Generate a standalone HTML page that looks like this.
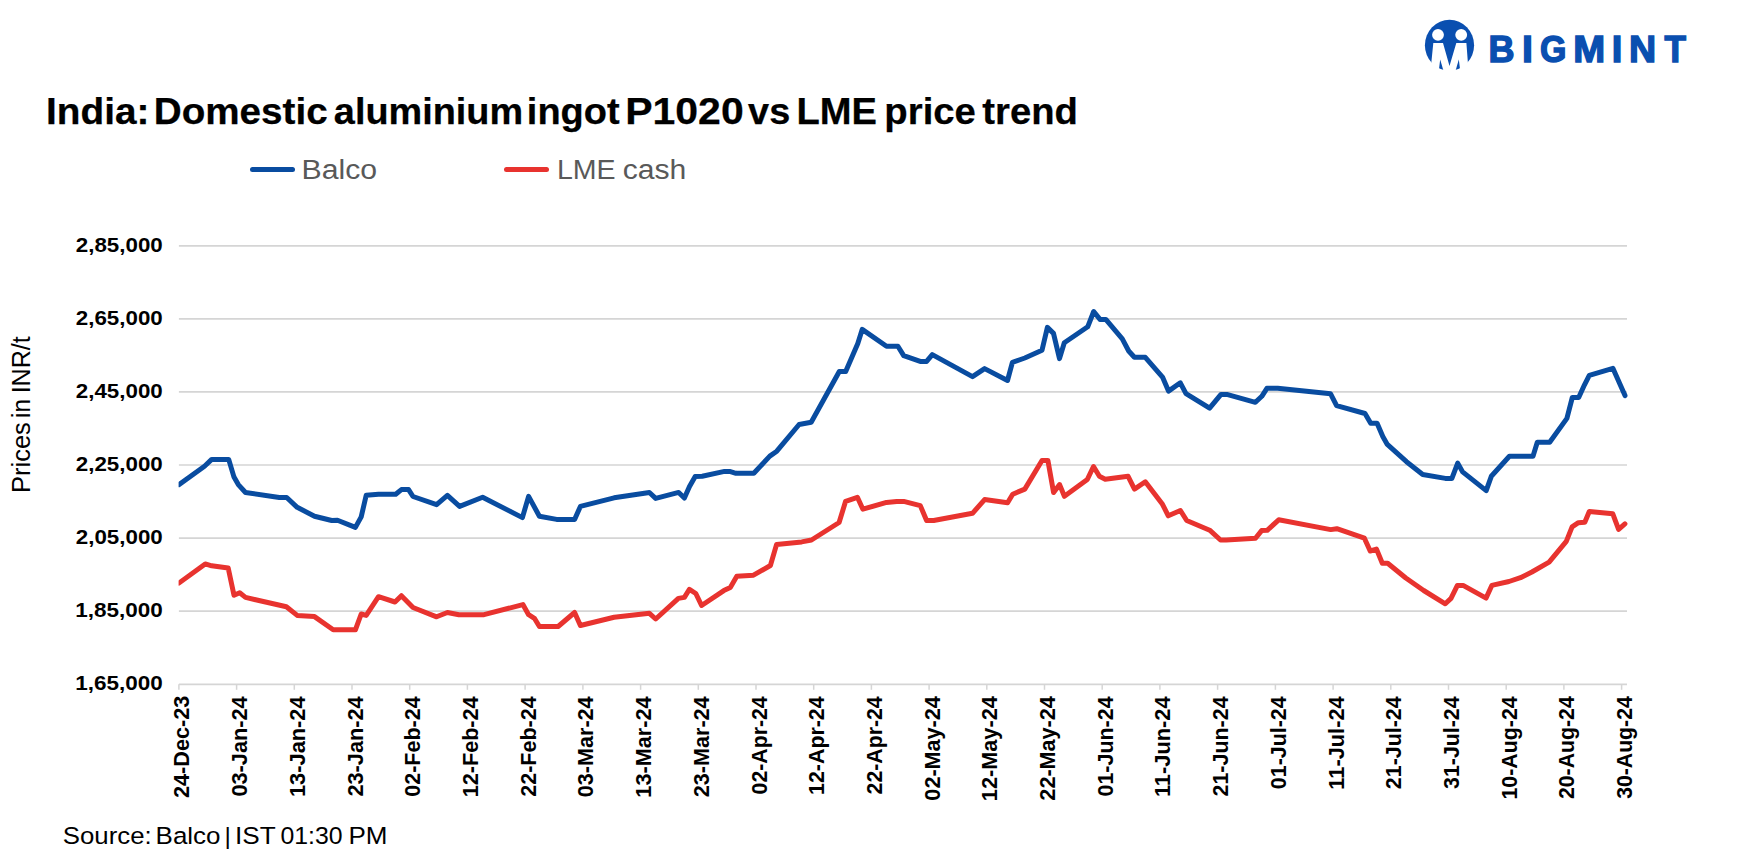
<!DOCTYPE html>
<html lang="en"><head><meta charset="utf-8"><title>India: Domestic aluminium ingot P1020 vs LME price trend</title>
<style>
html,body{margin:0;padding:0;background:#fff;}
body{width:1739px;height:863px;overflow:hidden;font-family:"Liberation Sans",sans-serif;}
svg{display:block;}
text{font-family:"Liberation Sans",sans-serif;}
</style></head><body>
<svg width="1739" height="863" viewBox="0 0 1739 863">
<rect width="1739" height="863" fill="#fff"/>
<g id="logo">
<defs><clipPath id="lc"><ellipse cx="1449.5" cy="45.3" rx="24.6" ry="25.5"/></clipPath></defs>
<ellipse cx="1449.5" cy="45.3" rx="24.6" ry="25.5" fill="#0a4fb0"/>
<circle cx="1438" cy="34.8" r="5.9" fill="#fff"/>
<circle cx="1461.2" cy="34.8" r="5.9" fill="#fff"/>
<path d="M1433.3 42.9 L1443 42.9 L1449.5 66 L1456.3 42.9 L1466.4 42.9 L1468.6 72 L1430.4 72 Z" fill="#fff"/>
<g clip-path="url(#lc)"><path d="M1440.2 59.5 L1443.8 72 L1438.6 72 Z" fill="#0a4fb0"/>
<path d="M1458.8 59.5 L1460.4 72 L1455.2 72 Z" fill="#0a4fb0"/></g>
<text y="62.4" font-size="36.3" font-weight="700" fill="#0a4fb0" stroke="#0a4fb0" stroke-width="1.4" stroke-linejoin="miter"><tspan x="1488.39" textLength="26.05" lengthAdjust="spacingAndGlyphs">B</tspan><tspan x="1521.95" textLength="10.99" lengthAdjust="spacingAndGlyphs">I</tspan><tspan x="1540.01" textLength="26.40" lengthAdjust="spacingAndGlyphs">G</tspan><tspan x="1573.24" textLength="31.93" lengthAdjust="spacingAndGlyphs">M</tspan><tspan x="1611.65" textLength="10.61" lengthAdjust="spacingAndGlyphs">I</tspan><tspan x="1628.99" textLength="27.15" lengthAdjust="spacingAndGlyphs">N</tspan><tspan x="1664.41" textLength="21.47" lengthAdjust="spacingAndGlyphs">T</tspan></text>
</g>
<text y="124.3" font-size="36.4" font-weight="700" fill="#000" stroke="#000" stroke-width="0.25"><tspan x="46.04" textLength="103.34" lengthAdjust="spacingAndGlyphs">India:</tspan> <tspan x="153.75" textLength="173.88" lengthAdjust="spacingAndGlyphs">Domestic</tspan> <tspan x="333.86" textLength="189.26" lengthAdjust="spacingAndGlyphs">aluminium</tspan> <tspan x="526.89" textLength="92.75" lengthAdjust="spacingAndGlyphs">ingot</tspan> <tspan x="625.19" textLength="118.49" lengthAdjust="spacingAndGlyphs">P1020</tspan> <tspan x="748.14" textLength="42.10" lengthAdjust="spacingAndGlyphs">vs</tspan> <tspan x="796.48" textLength="80.51" lengthAdjust="spacingAndGlyphs">LME</tspan> <tspan x="884.37" textLength="91.53" lengthAdjust="spacingAndGlyphs">price</tspan> <tspan x="982.27" textLength="95.64" lengthAdjust="spacingAndGlyphs">trend</tspan></text>
<line x1="252.5" y1="169.6" x2="292.5" y2="169.6" stroke="#094ca0" stroke-width="5" stroke-linecap="round"/>
<text y="178.8" font-size="27" fill="#595959"><tspan x="301.48" textLength="75.67" lengthAdjust="spacingAndGlyphs">Balco</tspan></text>
<line x1="506.5" y1="169.6" x2="546.5" y2="169.6" stroke="#e8332f" stroke-width="5" stroke-linecap="round"/>
<text y="178.8" font-size="27" fill="#595959"><tspan x="556.92" textLength="58.73" lengthAdjust="spacingAndGlyphs">LME</tspan> <tspan x="622.70" textLength="63.70" lengthAdjust="spacingAndGlyphs">cash</tspan></text>
<line x1="178.9" y1="245.9" x2="1627" y2="245.9" stroke="#d5d5d5" stroke-width="1.7"/>
<line x1="178.9" y1="318.9" x2="1627" y2="318.9" stroke="#d5d5d5" stroke-width="1.7"/>
<line x1="178.9" y1="391.9" x2="1627" y2="391.9" stroke="#d5d5d5" stroke-width="1.7"/>
<line x1="178.9" y1="465.0" x2="1627" y2="465.0" stroke="#d5d5d5" stroke-width="1.7"/>
<line x1="178.9" y1="538.1" x2="1627" y2="538.1" stroke="#d5d5d5" stroke-width="1.7"/>
<line x1="178.9" y1="611.1" x2="1627" y2="611.1" stroke="#d5d5d5" stroke-width="1.7"/>
<line x1="178.9" y1="684.3" x2="1627" y2="684.3" stroke="#d5d5d5" stroke-width="1.7"/>
<line x1="178.9" y1="684.3" x2="178.9" y2="689.8" stroke="#d5d5d5" stroke-width="1.5"/>
<line x1="236.6" y1="684.3" x2="236.6" y2="689.8" stroke="#d5d5d5" stroke-width="1.5"/>
<line x1="294.3" y1="684.3" x2="294.3" y2="689.8" stroke="#d5d5d5" stroke-width="1.5"/>
<line x1="352.0" y1="684.3" x2="352.0" y2="689.8" stroke="#d5d5d5" stroke-width="1.5"/>
<line x1="409.7" y1="684.3" x2="409.7" y2="689.8" stroke="#d5d5d5" stroke-width="1.5"/>
<line x1="467.4" y1="684.3" x2="467.4" y2="689.8" stroke="#d5d5d5" stroke-width="1.5"/>
<line x1="525.1" y1="684.3" x2="525.1" y2="689.8" stroke="#d5d5d5" stroke-width="1.5"/>
<line x1="582.9" y1="684.3" x2="582.9" y2="689.8" stroke="#d5d5d5" stroke-width="1.5"/>
<line x1="640.6" y1="684.3" x2="640.6" y2="689.8" stroke="#d5d5d5" stroke-width="1.5"/>
<line x1="698.3" y1="684.3" x2="698.3" y2="689.8" stroke="#d5d5d5" stroke-width="1.5"/>
<line x1="756.0" y1="684.3" x2="756.0" y2="689.8" stroke="#d5d5d5" stroke-width="1.5"/>
<line x1="813.7" y1="684.3" x2="813.7" y2="689.8" stroke="#d5d5d5" stroke-width="1.5"/>
<line x1="871.4" y1="684.3" x2="871.4" y2="689.8" stroke="#d5d5d5" stroke-width="1.5"/>
<line x1="929.1" y1="684.3" x2="929.1" y2="689.8" stroke="#d5d5d5" stroke-width="1.5"/>
<line x1="986.8" y1="684.3" x2="986.8" y2="689.8" stroke="#d5d5d5" stroke-width="1.5"/>
<line x1="1044.5" y1="684.3" x2="1044.5" y2="689.8" stroke="#d5d5d5" stroke-width="1.5"/>
<line x1="1102.2" y1="684.3" x2="1102.2" y2="689.8" stroke="#d5d5d5" stroke-width="1.5"/>
<line x1="1159.9" y1="684.3" x2="1159.9" y2="689.8" stroke="#d5d5d5" stroke-width="1.5"/>
<line x1="1217.6" y1="684.3" x2="1217.6" y2="689.8" stroke="#d5d5d5" stroke-width="1.5"/>
<line x1="1275.4" y1="684.3" x2="1275.4" y2="689.8" stroke="#d5d5d5" stroke-width="1.5"/>
<line x1="1333.1" y1="684.3" x2="1333.1" y2="689.8" stroke="#d5d5d5" stroke-width="1.5"/>
<line x1="1390.8" y1="684.3" x2="1390.8" y2="689.8" stroke="#d5d5d5" stroke-width="1.5"/>
<line x1="1448.5" y1="684.3" x2="1448.5" y2="689.8" stroke="#d5d5d5" stroke-width="1.5"/>
<line x1="1506.2" y1="684.3" x2="1506.2" y2="689.8" stroke="#d5d5d5" stroke-width="1.5"/>
<line x1="1563.9" y1="684.3" x2="1563.9" y2="689.8" stroke="#d5d5d5" stroke-width="1.5"/>
<line x1="1621.6" y1="684.3" x2="1621.6" y2="689.8" stroke="#d5d5d5" stroke-width="1.5"/>
<text y="251.5" font-size="20" font-weight="700" fill="#000"><tspan x="75.76" textLength="87.00" lengthAdjust="spacingAndGlyphs">2,85,000</tspan></text>
<text y="324.5" font-size="20" font-weight="700" fill="#000"><tspan x="75.76" textLength="87.00" lengthAdjust="spacingAndGlyphs">2,65,000</tspan></text>
<text y="397.5" font-size="20" font-weight="700" fill="#000"><tspan x="75.76" textLength="87.00" lengthAdjust="spacingAndGlyphs">2,45,000</tspan></text>
<text y="470.6" font-size="20" font-weight="700" fill="#000"><tspan x="75.76" textLength="87.00" lengthAdjust="spacingAndGlyphs">2,25,000</tspan></text>
<text y="543.7" font-size="20" font-weight="700" fill="#000"><tspan x="75.76" textLength="87.00" lengthAdjust="spacingAndGlyphs">2,05,000</tspan></text>
<text y="616.7" font-size="20" font-weight="700" fill="#000"><tspan x="75.19" textLength="87.57" lengthAdjust="spacingAndGlyphs">1,85,000</tspan></text>
<text y="689.9" font-size="20" font-weight="700" fill="#000"><tspan x="75.19" textLength="87.57" lengthAdjust="spacingAndGlyphs">1,65,000</tspan></text>
<text transform="translate(30.1,500) rotate(-90)" font-size="25.3" fill="#000"><tspan x="6.98" textLength="70.87" lengthAdjust="spacingAndGlyphs">Prices</tspan> <tspan x="82.02" textLength="18.92" lengthAdjust="spacingAndGlyphs">in</tspan> <tspan x="106.67" textLength="57.05" lengthAdjust="spacingAndGlyphs">INR/t</tspan></text>
<text transform="translate(189.4,800) rotate(-90)" x="2.06" textLength="102.29" lengthAdjust="spacingAndGlyphs" font-size="21.8" font-weight="700" fill="#000">24-Dec-23</text>
<text transform="translate(247.1,800) rotate(-90)" x="3.45" textLength="100.23" lengthAdjust="spacingAndGlyphs" font-size="21.8" font-weight="700" fill="#000">03-Jan-24</text>
<text transform="translate(304.8,800) rotate(-90)" x="2.95" textLength="100.73" lengthAdjust="spacingAndGlyphs" font-size="21.8" font-weight="700" fill="#000">13-Jan-24</text>
<text transform="translate(362.5,800) rotate(-90)" x="3.45" textLength="100.23" lengthAdjust="spacingAndGlyphs" font-size="21.8" font-weight="700" fill="#000">23-Jan-24</text>
<text transform="translate(420.2,800) rotate(-90)" x="3.26" textLength="100.36" lengthAdjust="spacingAndGlyphs" font-size="21.8" font-weight="700" fill="#000">02-Feb-24</text>
<text transform="translate(477.9,800) rotate(-90)" x="2.76" textLength="100.85" lengthAdjust="spacingAndGlyphs" font-size="21.8" font-weight="700" fill="#000">12-Feb-24</text>
<text transform="translate(535.6,800) rotate(-90)" x="3.26" textLength="100.36" lengthAdjust="spacingAndGlyphs" font-size="21.8" font-weight="700" fill="#000">22-Feb-24</text>
<text transform="translate(593.4,800) rotate(-90)" x="2.86" textLength="100.77" lengthAdjust="spacingAndGlyphs" font-size="21.8" font-weight="700" fill="#000">03-Mar-24</text>
<text transform="translate(651.1,800) rotate(-90)" x="2.36" textLength="101.27" lengthAdjust="spacingAndGlyphs" font-size="21.8" font-weight="700" fill="#000">13-Mar-24</text>
<text transform="translate(708.8,800) rotate(-90)" x="2.86" textLength="100.77" lengthAdjust="spacingAndGlyphs" font-size="21.8" font-weight="700" fill="#000">23-Mar-24</text>
<text transform="translate(766.5,800) rotate(-90)" x="5.57" textLength="98.08" lengthAdjust="spacingAndGlyphs" font-size="21.8" font-weight="700" fill="#000">02-Apr-24</text>
<text transform="translate(824.2,800) rotate(-90)" x="5.07" textLength="98.57" lengthAdjust="spacingAndGlyphs" font-size="21.8" font-weight="700" fill="#000">12-Apr-24</text>
<text transform="translate(881.9,800) rotate(-90)" x="5.57" textLength="98.08" lengthAdjust="spacingAndGlyphs" font-size="21.8" font-weight="700" fill="#000">22-Apr-24</text>
<text transform="translate(939.6,800) rotate(-90)" x="-0.64" textLength="104.41" lengthAdjust="spacingAndGlyphs" font-size="21.8" font-weight="700" fill="#000">02-May-24</text>
<text transform="translate(997.3,800) rotate(-90)" x="-1.14" textLength="104.92" lengthAdjust="spacingAndGlyphs" font-size="21.8" font-weight="700" fill="#000">12-May-24</text>
<text transform="translate(1055.0,800) rotate(-90)" x="-0.64" textLength="104.41" lengthAdjust="spacingAndGlyphs" font-size="21.8" font-weight="700" fill="#000">22-May-24</text>
<text transform="translate(1112.7,800) rotate(-90)" x="3.46" textLength="100.15" lengthAdjust="spacingAndGlyphs" font-size="21.8" font-weight="700" fill="#000">01-Jun-24</text>
<text transform="translate(1170.4,800) rotate(-90)" x="2.95" textLength="100.71" lengthAdjust="spacingAndGlyphs" font-size="21.8" font-weight="700" fill="#000">11-Jun-24</text>
<text transform="translate(1228.1,800) rotate(-90)" x="3.46" textLength="100.15" lengthAdjust="spacingAndGlyphs" font-size="21.8" font-weight="700" fill="#000">21-Jun-24</text>
<text transform="translate(1285.9,800) rotate(-90)" x="10.86" textLength="92.74" lengthAdjust="spacingAndGlyphs" font-size="21.8" font-weight="700" fill="#000">01-Jul-24</text>
<text transform="translate(1343.6,800) rotate(-90)" x="10.35" textLength="93.30" lengthAdjust="spacingAndGlyphs" font-size="21.8" font-weight="700" fill="#000">11-Jul-24</text>
<text transform="translate(1401.3,800) rotate(-90)" x="10.86" textLength="92.74" lengthAdjust="spacingAndGlyphs" font-size="21.8" font-weight="700" fill="#000">21-Jul-24</text>
<text transform="translate(1459.0,800) rotate(-90)" x="11.11" textLength="92.49" lengthAdjust="spacingAndGlyphs" font-size="21.8" font-weight="700" fill="#000">31-Jul-24</text>
<text transform="translate(1516.7,800) rotate(-90)" x="0.48" textLength="103.26" lengthAdjust="spacingAndGlyphs" font-size="21.8" font-weight="700" fill="#000">10-Aug-24</text>
<text transform="translate(1574.4,800) rotate(-90)" x="0.97" textLength="102.77" lengthAdjust="spacingAndGlyphs" font-size="21.8" font-weight="700" fill="#000">20-Aug-24</text>
<text transform="translate(1632.1,800) rotate(-90)" x="1.21" textLength="102.52" lengthAdjust="spacingAndGlyphs" font-size="21.8" font-weight="700" fill="#000">30-Aug-24</text>
<defs><clipPath id="pc"><rect x="178.6" y="200" width="1500" height="500"/></clipPath></defs>
<g clip-path="url(#pc)">
<polyline points="178.9,583.1 205.2,563.9 211.7,565.8 228.2,568.0 234.0,595.3 239.7,592.8 245.5,597.4 286.4,606.8 297.2,615.4 314.5,616.6 333.2,629.8 355.4,629.8 361.2,614.0 366.2,615.4 378.5,596.7 395.0,602.0 401.4,595.7 413.0,607.5 436.6,616.8 447.4,612.5 458.9,614.7 484.0,614.7 522.9,604.6 528.6,614.7 534.4,618.3 539.4,626.5 558.1,626.5 574.6,612.5 580.4,625.5 614.1,617.3 649.4,613.3 655.7,619.0 678.4,598.4 684.4,597.4 689.4,589.3 695.8,593.5 701.6,605.5 723.8,590.6 730.3,587.4 736.8,576.3 753.5,575.2 770.4,565.5 776.6,544.4 801.7,541.9 811.5,540.0 839.1,522.5 845.6,501.3 857.4,497.3 862.9,509.2 886.5,502.4 896.7,501.4 903.7,501.4 920.3,505.6 926.6,520.5 933.7,520.5 972.5,513.3 984.6,499.6 1007.6,502.7 1012.7,494.2 1024.8,489.1 1042.0,460.5 1047.9,460.5 1053.6,492.5 1059.6,484.6 1064.4,496.3 1087.3,479.5 1093.5,466.5 1099.4,476.3 1105.2,479.2 1128.1,476.3 1134.5,489.1 1145.3,481.8 1162.5,504.3 1168.3,515.8 1180.4,510.5 1186.7,520.5 1209.7,530.2 1220.5,540.0 1226.2,540.0 1255.5,538.2 1261.6,530.6 1267.2,530.3 1278.7,519.8 1330.7,529.6 1336.8,528.7 1364.4,538.2 1370.2,551.0 1376.5,549.1 1382.3,563.3 1387.7,563.3 1405.8,578.0 1423.7,590.5 1445.3,603.8 1451.0,598.4 1457.4,585.4 1463.1,585.4 1486.1,598.1 1491.8,585.4 1509.0,581.5 1520.5,577.7 1531.9,572.0 1549.1,562.1 1566.3,541.4 1572.1,526.8 1578.4,522.7 1584.8,522.3 1589.3,511.5 1612.8,513.8 1618.6,529.3 1624.9,523.8" fill="none" stroke="#e8332f" stroke-width="5" stroke-linejoin="round" stroke-linecap="round"/>
<polyline points="178.9,484.6 204.5,466.2 211.7,459.4 228.7,459.4 234.0,477.1 238.3,484.6 245.5,492.5 279.3,497.5 286.7,497.5 297.2,507.3 314.5,516.2 331.7,520.5 337.5,520.2 355.4,527.4 361.2,516.9 366.2,495.3 378.5,494.3 395.7,494.3 401.4,489.6 408.6,489.6 413.0,496.5 436.6,504.7 447.4,495.3 459.6,506.4 482.6,497.2 522.4,517.6 528.6,496.4 539.4,516.2 556.6,519.4 574.6,519.4 580.4,506.4 614.1,497.8 649.4,492.5 655.7,498.4 678.7,492.4 684.4,498.1 689.5,486.6 695.2,476.5 702.2,476.2 724.5,471.4 729.6,471.4 736.0,473.3 753.8,473.3 769.8,456.1 776.8,451.2 799.1,424.5 811.2,422.3 839.3,371.5 845.7,371.5 857.8,343.4 862.2,329.4 886.5,346.3 897.9,346.3 903.7,355.6 920.2,361.4 926.6,361.4 932.3,354.6 972.5,376.6 984.6,368.6 1007.5,380.5 1012.4,362.3 1024.8,358.0 1042.0,350.3 1047.4,327.4 1053.5,333.4 1059.5,358.6 1064.3,342.7 1087.7,326.8 1093.7,311.5 1100.0,319.4 1105.8,319.4 1122.3,338.9 1128.7,351.0 1134.4,357.3 1145.3,357.3 1162.5,377.1 1168.5,391.1 1180.3,382.8 1186.0,393.7 1209.6,408.2 1221.0,394.4 1226.8,394.4 1255.4,402.3 1261.8,396.3 1266.9,388.3 1277.7,388.3 1330.6,393.8 1336.6,405.6 1365.0,413.5 1370.7,423.3 1377.1,423.3 1382.8,436.5 1387.3,444.4 1406.5,461.7 1422.7,474.5 1445.4,478.4 1451.9,478.4 1457.7,463.1 1462.6,471.9 1486.2,490.6 1491.3,476.3 1509.4,456.3 1533.0,456.3 1537.3,442.3 1549.7,442.3 1566.9,418.4 1572.3,397.5 1578.7,397.5 1584.5,384.8 1589.3,375.3 1612.9,368.3 1625.0,395.6" fill="none" stroke="#094ca0" stroke-width="5" stroke-linejoin="round" stroke-linecap="round"/>
</g>
<text y="843.6" font-size="24.5" fill="#000"><tspan x="62.78" textLength="88.92" lengthAdjust="spacingAndGlyphs">Source:</tspan> <tspan x="155.58" textLength="64.93" lengthAdjust="spacingAndGlyphs">Balco</tspan> <tspan x="224.60" textLength="6.38" lengthAdjust="spacingAndGlyphs">|</tspan> <tspan x="235.03" textLength="40.23" lengthAdjust="spacingAndGlyphs">IST</tspan> <tspan x="280.49" textLength="62.09" lengthAdjust="spacingAndGlyphs">01:30</tspan> <tspan x="348.47" textLength="39.05" lengthAdjust="spacingAndGlyphs">PM</tspan></text>
</svg>
</body></html>
